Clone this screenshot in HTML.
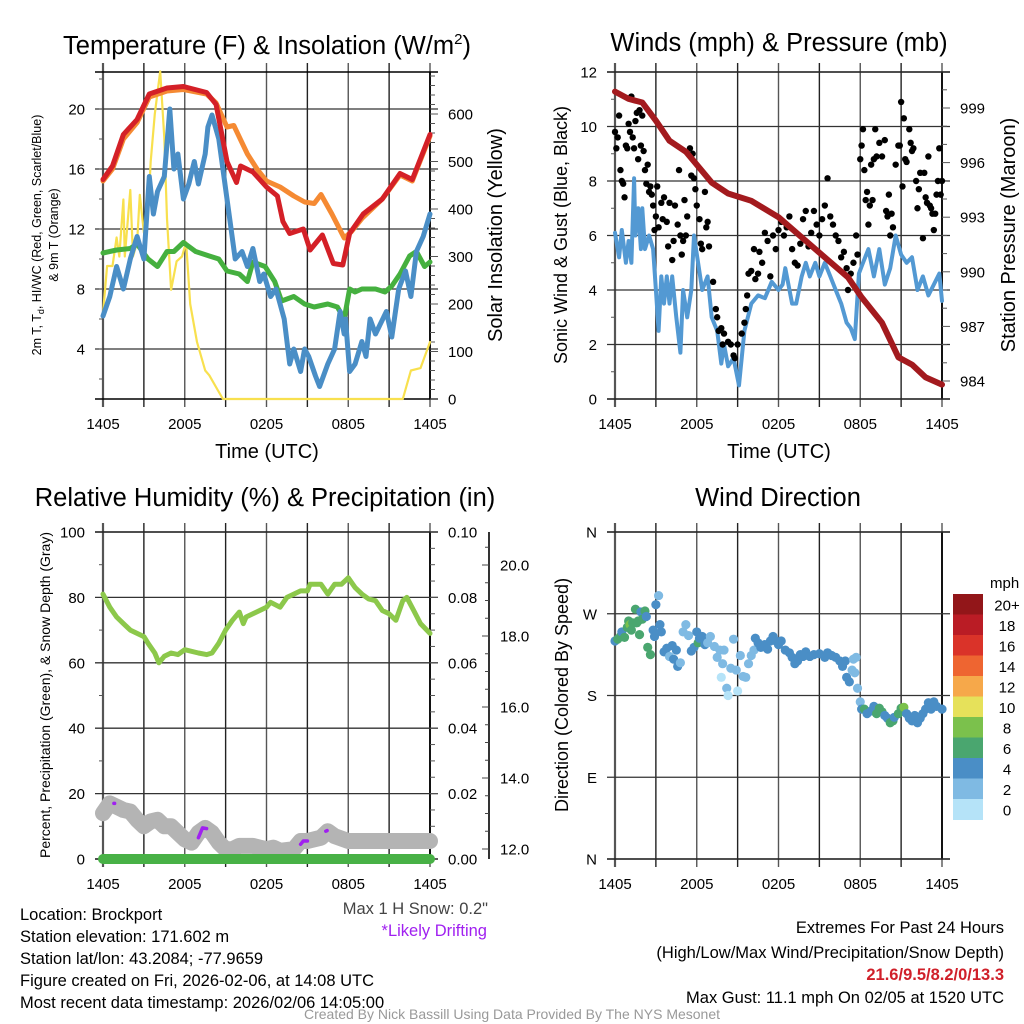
<!DOCTYPE html>
<html><head><meta charset="utf-8"><style>
html,body{margin:0;padding:0;background:#fff;}
svg{display:block;font-family:"Liberation Sans",sans-serif;}
</style></head><body>
<svg id="chart" width="1024" height="1024" viewBox="0 0 1024 1024" xmlns="http://www.w3.org/2000/svg">
<rect width="1024" height="1024" fill="#fff"/>
<g id="p1"></g>
<g id="p2"></g>
<g id="p3"></g>
<g id="p4"></g>
<g font-size="25.5" text-anchor="middle">
<text x="267" y="54">Temperature (F) &amp; Insolation (W/m<tspan dy="-10" font-size="15">2</tspan><tspan dy="10">)</tspan></text>
<text x="779" y="51">Winds (mph) &amp; Pressure (mb)</text>
<text x="265" y="506">Relative Humidity (%) &amp; Precipitation (in)</text>
<text x="778" y="506">Wind Direction</text>
</g>
<g text-anchor="middle">
<text x="267" y="458" font-size="20">Time (UTC)</text>
<text x="779" y="458" font-size="20">Time (UTC)</text>
<text transform="translate(41,235) rotate(-90)" font-size="12.5">2m T, T<tspan dy="3" font-size="9">d</tspan><tspan dy="-3">, HI/WC (Red, Green, Scarlet/Blue)</tspan></text>
<text transform="translate(58,235) rotate(-90)" font-size="12.5">&amp; 9m T (Orange)</text>
<text transform="translate(502,235) rotate(-90)" font-size="20">Solar Insolation (Yellow)</text>
<text transform="translate(567,235) rotate(-90)" font-size="18">Sonic Wind &amp; Gust (Blue, Black)</text>
<text transform="translate(1015,235) rotate(-90)" font-size="20">Station Pressure (Maroon)</text>
<text transform="translate(50,695) rotate(-90)" font-size="14">Percent, Precipitation (Green), &amp; Snow Depth (Gray)</text>
<text transform="translate(568,695) rotate(-90)" font-size="18">Direction (Colored By Speed)</text>
</g>
<g font-size="16.5">
<text x="20" y="920">Location: Brockport</text>
<text x="20" y="942">Station elevation: 171.602 m</text>
<text x="20" y="964">Station lat/lon: 43.2084; -77.9659</text>
<text x="20" y="986">Figure created on Fri, 2026-02-06, at 14:08 UTC</text>
<text x="20" y="1008">Most recent data timestamp: 2026/02/06 14:05:00</text>
<text x="488" y="914" text-anchor="end" fill="#444">Max 1 H Snow: 0.2"</text>
<text x="487" y="936" text-anchor="end" fill="#a020f0">*Likely Drifting</text>
<text x="1004" y="933" text-anchor="end">Extremes For Past 24 Hours</text>
<text x="1004" y="958" text-anchor="end">(High/Low/Max Wind/Precipitation/Snow Depth)</text>
<text x="1004" y="980" text-anchor="end" fill="#d0202a" font-weight="bold">21.6/9.5/8.2/0/13.3</text>
<text x="1004" y="1003" text-anchor="end">Max Gust: 11.1 mph On 02/05 at 1520 UTC</text>
<text x="512" y="1019" text-anchor="middle" font-size="14" fill="#999">Created By Nick Bassill Using Data Provided By The NYS Mesonet</text>
</g>
</svg>
<script>
// ---- Temperature panel data ----
const redT = [0,0.7,1.5,2.5,3.4,4.7,5.9,7.6,8.3,9.1,9.8,10.1,11,12,12.8,13.2,13.7,14.7,15.2,16.1,16.9,17.6,18.1,19.1,20.5,21.8,22.7,24];
const redV = [15.3,16.2,18.3,19.3,21,21.4,21.5,21.1,20.3,16.5,15.1,16.2,15.8,14.8,14.2,12.5,11.7,12,10.6,11.6,9.7,9.6,11.7,13,14,15.7,15.3,18.3];
const orgT = [0,0.7,1.5,2.5,3.4,4.7,5.9,7.6,8.3,9.1,9.6,10.6,11.3,12,13,14,14.8,15.5,16,16.8,17.7,18.2,19,20.5,21.8,22.7,24];
const orgV = [15.2,16,18,19.1,20.8,21.2,21.3,21,20.4,18.8,18.9,17,16,15.2,14.8,14.2,13.8,13.7,14.3,13,11.4,11.8,12.7,14,15.6,15.2,18.2];
const bluT = [0,0.5,1,1.5,2,2.5,3,3.4,3.7,4,4.5,4.9,5.2,5.5,5.9,6.3,6.7,7,7.5,7.7,8,8.5,9.1,9.7,10.2,10.6,11,11.5,11.8,12.3,12.7,13.3,13.7,14,14.5,14.8,15.1,15.6,15.9,16.5,17,17.4,17.7,17.8,18.1,18.5,19,19.3,19.6,20,20.8,21.2,21.7,22.2,22.6,23,23.5,24];
const bluV = [6.2,7.5,9.5,8,10,11.5,10,15.5,13,14.5,15.5,20,16,17,14,15,16.5,15,17,18.8,19.6,18,14,10,10.5,9.5,10.7,8.5,9,7.5,8,6,3,4,2.5,4,3.5,2.2,1.5,3,4,6.5,5,6,2.5,3,4.5,3.5,6,5,6.5,4.8,8,9.2,7.5,10.5,11.5,13];
const grnT = [0,1,2,2.5,3.3,4,4.7,5.2,5.9,6.8,7.8,8.5,9.1,10,10.6,11,11.9,12.6,13.1,14,14.8,15.5,16.5,17.2,17.7,18.1,18.5,19,20,20.7,21.2,21.8,22.5,23,23.6,24];
const grnV = [10.4,10.6,10.7,11,10,9.5,10.5,10.5,11.1,10.5,10.2,10,9.2,9,8.5,9.8,9.5,8.5,7.2,7.5,7,6.8,7,6.8,6,8,7.8,8,8,7.8,8.2,9,10.2,10.5,9.5,9.8];
const solT = [0,0.3,0.7,1,1.2,1.5,1.6,2,2.2,2.5,2.7,3,3.3,3.5,3.8,4.2,4.5,4.7,5,5.4,5.8,6.1,6.4,6.9,7.5,7.8,8.4,8.8,22,22.6,23.3,24];
const solV = [180,280,280,340,300,420,300,440,300,330,430,350,390,500,600,690,550,380,230,290,300,330,200,120,60,50,20,0,0,60,65,120];
const p1LeftTicks = [4,8,12,16,20];
const p1RightTicks = [0,100,200,300,400,500,600];
const timeLabels = ["1405","2005","0205","0805","1405"];
// ---- Wind panel data ----
const windT = [0,0.3,0.5,0.8,1,1.2,1.4,1.5,1.7,1.9,2,2.2,2.5,2.8,3,3.2,3.4,3.6,3.8,4,4.2,4.5,4.8,5,5.3,5.6,5.8,6.1,6.4,6.8,7.1,7.5,7.8,8,8.3,8.7,9.1,9.5,10,10.5,11,11.5,12,12.3,12.5,13,13.3,13.7,14,14.3,14.7,15,15.4,15.8,16.2,16.6,17,17.3,17.6,17.9,18.2,18.6,19,19.4,19.8,20.2,20.6,21,21.4,21.8,22.2,22.6,23,23.4,23.8,24];
const windV = [6.1,5.2,6.2,5,5.8,5,8.1,6,7,5.5,7,5.5,6,5.5,4,2.5,4.5,3.5,4.5,3.5,4.5,3,1.7,4,3,4,6,5,4,4.5,3,2.5,1.3,2,1.2,1.5,0.5,2.5,3.5,3.8,3.7,4.3,4,4.2,4.8,3.5,3.5,4.5,5,4.5,5,4.5,5,4.5,4,3.5,2.8,2.6,2.2,4.6,5,5.5,4.5,5.5,4.2,4.8,6,5.3,5,5.2,4,4.5,3.8,4.2,4.6,3.6];
const gustT = [0,0.1,0.2,0.3,0.4,0.5,0.6,0.7,0.8,0.9,1,1.1,1.2,1.3,1.4,1.5,1.6,1.7,1.8,1.9,2,2.1,2.2,2.3,2.4,2.5,2.6,2.7,2.8,2.9,3,3.1,3.2,3.4,3.5,3.6,3.8,3.9,4,4.2,4.3,4.4,4.6,4.7,4.8,4.9,5,5.1,5.2,5.3,5.5,5.6,5.7,5.8,5.9,6,6.2,6.3,6.4,6.6,6.7,6.8,6.9,7.2,7.4,7.5,7.6,7.8,7.9,8,8.3,8.5,8.7,8.8,9,9.3,9.5,9.6,9.7,9.8,10,10.2,10.3,10.5,10.6,10.8,11,11.2,11.4,11.6,11.8,12,12.2,12.4,12.6,12.8,13,13.2,13.4,13.6,13.8,14,14.2,14.4,14.6,14.8,15,15.2,15.4,15.6,15.8,16,16.2,16.4,16.6,16.8,17,17.1,17.3,17.5,17.7,17.8,18,18.1,18.2,18.3,18.4,18.5,18.6,18.7,18.8,18.9,19,19.1,19.2,19.4,19.6,19.8,19.9,20,20.1,20.2,20.3,20.4,20.6,20.8,20.9,21,21.1,21.2,21.3,21.4,21.6,21.7,21.8,21.9,22.1,22.2,22.3,22.4,22.6,22.7,22.8,22.9,23,23.1,23.2,23.3,23.4,23.5,23.6,23.7,23.8,23.9,24];
const gustV = [9.8,9.2,9.6,10.4,8.4,8,7.9,7.4,9.3,9.2,10.1,9.8,11.1,9.6,9.2,10.2,10.5,8.8,10.6,9.3,10.4,9.1,8.4,7.9,8.6,7.6,7.8,7.5,7.1,6.2,6.7,7.8,6.3,7.2,6.6,7.4,6.5,5.6,7.2,5.1,5.8,7.1,6.4,8.4,6,5.3,5.8,7.3,6,6.7,9.2,8.2,9,8.1,7.7,7.1,6.6,5.7,5.5,7.6,6.3,6.5,5.6,4.3,3.3,3,2.5,2.6,2,2.4,2.1,2,1.6,1.5,2,2.4,2.8,3.3,3.8,4.6,4.7,5.5,4.4,4.6,5.4,5,6.1,5.8,4.5,6,5.5,6.2,6.5,6,6.3,6.7,5.5,5,4.9,5.7,6.6,6.9,5.6,6.1,6.9,6.4,6,6.6,7.1,8.1,6.7,6.4,6,5.8,5.2,5.4,4.8,4,4.6,5,6,5.3,8.8,9.3,9.9,8.4,7.3,7.6,6.4,7.1,8.6,7.3,8.8,9.9,8.9,9.4,8.9,9.5,6.9,6.7,7.5,6,6.8,6.3,8.6,9.3,9.3,10.9,7.8,10.3,8.8,8.7,9.9,9.4,9.1,9.2,8,7,7.7,8.3,5.9,8.3,7.4,7.2,8.9,7.1,7,6.8,6.2,6.8,7.5,8,9.2,7.5,8];
const presT = [0,1,2,3,4,5.2,7.1,8.3,10,12,14,15.7,17.1,18.1,19.6,20.8,21.8,22.8,24];
const presV = [999.9,999.5,999.3,998.3,997.2,996.6,994.9,994.3,993.9,993,991.7,990.6,989.7,988.6,987.2,985.3,984.9,984.2,983.8];
const p2LeftTicks = [0,2,4,6,8,10,12];
const p2RightTicks = [984,987,990,993,996,999];
// ---- Humidity panel data ----
const rhT = [0,0.5,1,1.5,2,2.5,3,3.3,3.8,4.1,4.5,5,5.5,6,7,7.6,8,8.5,9,9.5,10,10.3,10.5,11,11.5,12,12.3,13,13.5,14,14.5,15,15.2,16,16.5,17,17.5,18,18.5,19,19.5,20,20.5,21,21.5,22,22.3,22.8,23.3,24];
const rhV = [81,77,74,72,70,69,68,66,63,60,62,63,62.5,64,63,62.5,63,66,70,73,75.5,72,74,75,76,77,78.5,77,80,81,82,82,84,84,81,84,84,86,83,81,79.5,79,76,75,73,79,80,76,72,69];
const snowT = [0,0.5,1,1.5,2,2.5,3,3.5,4,4.5,5,5.5,6,6.5,7,7.5,8,8.5,9,9.5,10,11,11.5,12,12.5,13,14,14.5,15,16,16.5,17,18,24];
const snowV = [14,17,16,15,14.5,12,10,11.5,12,10,10,8,6,5,8,9.5,8,5,3,3,4,4,3.5,3,3.5,2.5,3,5.5,5.5,6.5,8.5,7,5.5,5.5];
const driftT = [[0.8,0.85],[7.0,7.3,7.6],[14.5,14.7,15.0],[16.35,16.45]];
const driftV = [[17,17],[6.5,9.5,9.3],[4.5,5.5,5.5],[8.5,8.7]];
const p3LeftTicks = [0,20,40,60,80,100];
const p3RightTicks = ["0.00","0.02","0.04","0.06","0.08","0.10"];
const p3SnowTicks = [12,14,16,18,20];
// ---- Wind direction panel data ----
const dirT = [0,0.2,0.4,0.5,0.7,0.9,1,1.1,1.2,1.3,1.5,1.6,1.7,1.8,1.9,2,2.2,2.3,2.4,2.6,2.8,2.9,3,3.2,3.3,3.4,3.6,3.8,4,4.2,4.3,4.5,4.6,4.8,5,5.2,5.4,5.6,5.8,6,6.1,6.2,6.4,6.6,6.8,7,7.3,7.5,7.7,7.8,7.9,8,8.2,8.3,8.5,8.7,8.9,9,9.2,9.4,9.6,9.8,10,10.2,10.3,10.5,10.7,11,11.2,11.4,11.6,11.8,12,12.2,12.5,12.8,13,13.2,13.4,13.6,13.8,14,14.3,14.6,15,15.4,15.6,15.9,16.2,16.5,16.7,16.9,17,17.2,17.4,17.6,17.5,17.7,17.8,18,18.1,18.3,18.5,18.8,19,19.2,19.4,19.6,19.8,20,20.2,20.4,20.5,20.8,21,21.2,21.4,21.6,21.8,22,22.2,22.4,22.6,22.8,23,23.2,23.4,23.6,24];
const dirV = [240,242,245,250,244,255,262,258,252,260,275,260,262,247,272,264,273,267,233,225,252,245,280,290,258,250,228,232,223,235,220,230,212,216,250,258,246,229,233,250,238,243,245,236,238,245,234,222,230,200,215,230,188,180,210,242,208,185,224,201,200,215,224,230,243,238,233,236,231,240,245,240,236,240,230,227,222,215,218,225,223,228,223,225,226,222,227,224,222,218,212,218,200,195,208,205,220,222,188,173,165,165,160,163,168,160,166,162,158,155,150,152,156,160,166,167,160,155,152,158,150,155,160,165,172,165,173,168,165];
const dirS = [5,6,6,4,6,6,6,8,6,6,6,6,6,6,4,6,6,4,6,6,4,4,4,3,4,4,4,4,3,4,4,4,4,3,3,3,3,4,4,4,6,4,4,4,3,3,3,3,2,1,2,2,2,1,3,2,3,1,2,2,3,2,2,3,4,4,4,4,4,4,4,4,4,4,4,4,4,4,4,4,4,4,4,4,4,4,4,4,4,4,4,4,4,4,3,3,3,3,3,3,4,6,4,4,4,6,6,6,4,4,6,6,4,6,6,8,4,4,4,4,4,4,4,4,4,4,4,4,4,4];
const speedBins = ["0","2","4","6","8","10","12","14","16","18","20+"];
const speedColors = ["#b5e3f8","#7fbae3","#4a8ec6","#4aa66f","#7bc14c","#e6e15a","#f6a84a","#ee6531","#da3329","#ba1c25","#921619"];
const dirLabels = ["N","E","S","W","N"];

const NS = "http://www.w3.org/2000/svg";
function mk(parent, tag, attrs){
  const e = document.createElementNS(NS, tag);
  for (const k in attrs) e.setAttribute(k, attrs[k]);
  parent.appendChild(e);
  return e;
}
const PW = 327, PH = 327;
function tx(ox, t){ return ox + t*PW/24; }
function poly(g, xs, ys, color, w, name){
  let d = "";
  for (let i=0;i<xs.length;i++) d += (i?"L":"M") + xs[i].toFixed(1) + "," + ys[i].toFixed(1);
  const p = mk(g, "path", {d:d, fill:"none", stroke:color, "stroke-width":w, "stroke-linejoin":"round", "stroke-linecap":"round"});
  
  
  return p;
}
function frame(g, ox, oy, leftTicks, leftY, leftFmt, name){
  const gl = mk(g, "g", {});
  
  
  for (let i=0;i<=8;i++){
    const x = ox + i*PW/8;
    mk(gl, "line", {x1:x, y1:oy-9, x2:x, y2:oy+PH+8, stroke:(i%2? "#222":"#555"), "stroke-width":(i==0?2.2:1.4)});
  }
  mk(gl, "line", {x1:ox-8, y1:oy, x2:ox+PW+8, y2:oy, stroke:"#000", "stroke-width":1.4});
  mk(gl, "line", {x1:ox-8, y1:oy+PH, x2:ox+PW+8, y2:oy+PH, stroke:"#000", "stroke-width":1.6});
  mk(gl, "line", {x1:ox+PW, y1:oy, x2:ox+PW, y2:oy+PH, stroke:"#000", "stroke-width":1.8});
  leftTicks.forEach(v=>{
    const y = leftY(v);
    mk(gl, "line", {x1:ox-8, y1:y, x2:ox+PW+8, y2:y, stroke:"#333", "stroke-width":1.3});
    const t = mk(gl, "text", {x:ox-18, y:y+5.5, "text-anchor":"end", "font-size":15});
    t.textContent = leftFmt(v);
    
    
  });
  timeLabels.forEach((s,i)=>{
    const t = mk(gl, "text", {x:ox + i*PW/4, y:oy+PH+30, "text-anchor":"middle", "font-size":15});
    t.textContent = s;
    
    
  });
}

// ---- Panel 1 ----
(function(){
  const g = document.getElementById("p1");
  const ox = 103, oy = 72;
  const yL = v => 409 - v*15;
  const yR = v => 399 - v*0.475;
  frame(g, ox, oy, p1LeftTicks, yL, v=>String(v), "p1");
  for (let v=2; v<=22; v+=2) mk(g,"line",{x1:ox-4,y1:yL(v),x2:ox,y2:yL(v),stroke:"#555","stroke-width":1});
  for (let v=0; v<=680; v+=20) mk(g,"line",{x1:ox+PW,y1:yR(v),x2:ox+PW+(v%100?5:8),y2:yR(v),stroke:"#555","stroke-width":1});
  p1RightTicks.forEach(v=>{
    const t = mk(g,"text",{x:448,y:yR(v)+5.5,"font-size":15}); t.textContent=String(v);
    
    
  });
  poly(g, solT.map(t=>tx(ox,t)), solV.map(yR), "#f8e04e", 2.2, "insolation-line");
  poly(g, grnT.map(t=>tx(ox,t)), grnV.map(yL), "#45b03f", 5, "heat-index-line");
  poly(g, bluT.map(t=>tx(ox,t)), bluV.map(yL), "#4a8ec6", 5, "dewpoint-line");
  poly(g, orgT.map(t=>tx(ox,t)), orgV.map(yL), "#f58a33", 5, "temp-9m-line");
  poly(g, redT.map(t=>tx(ox,t)), redV.map(yL), "#d42027", 5, "temp-2m-line");
})();

// ---- Panel 2 ----
(function(){
  const g = document.getElementById("p2");
  const ox = 615, oy = 72;
  const yL = v => 399 - v*27.25;
  const yR = v => 381 - (v-984)*18.2;
  frame(g, ox, oy, p2LeftTicks, yL, v=>String(v), "p2");
  for (let v=1; v<12; v+=2) mk(g,"line",{x1:ox-4,y1:yL(v),x2:ox,y2:yL(v),stroke:"#555","stroke-width":1});
  for (let v=984; v<=1000; v+=1){ const y=yR(v); if(y<oy) continue; mk(g,"line",{x1:ox+PW,y1:y,x2:ox+PW+((v-984)%3?5:8),y2:y,stroke:"#555","stroke-width":1}); }
  p2RightTicks.forEach(v=>{
    const t = mk(g,"text",{x:960,y:yR(v)+5.5,"font-size":15}); t.textContent=String(v);
    
    
  });
  poly(g, windT.map(t=>tx(ox,t)), windV.map(yL), "#5399d3", 4, "sonic-wind-line");
  const gg = mk(g,"g",{});
  
  
  gustT.forEach((t,i)=>{
    const c = mk(gg,"circle",{cx:tx(ox,t),cy:yL(gustV[i]),r:3.2,fill:"#000"});
    
    
  });
  poly(g, presT.map(t=>tx(ox,t)), presV.map(yR), "#a31a1e", 6, "pressure-line");
})();

// ---- Panel 3 ----
(function(){
  const g = document.getElementById("p3");
  const ox = 103, oy = 532;
  const yL = v => 859 - v*3.27;
  const yS = v => 849 - (v-12)*35.5;
  frame(g, ox, oy, p3LeftTicks, yL, v=>String(v), "p3");
  for (let v=10; v<100; v+=20) mk(g,"line",{x1:ox-4,y1:yL(v),x2:ox,y2:yL(v),stroke:"#555","stroke-width":1});
  for (let v=0; v<=100; v+=5) mk(g,"line",{x1:ox+PW,y1:yL(v),x2:ox+PW+(v%20?5:8),y2:yL(v),stroke:"#555","stroke-width":1});
  p3RightTicks.forEach((s,i)=>{
    const t = mk(g,"text",{x:448,y:yL(i*20)+5.5,"font-size":15}); t.textContent=s;
    
    
  });
  const ax = mk(g,"line",{x1:489,y1:oy,x2:489,y2:oy+PH,stroke:"#000","stroke-width":1.6});
  
  
  for (let v=12; v<=21; v+=0.5){ const y=yS(v); if(y<oy) continue; mk(g,"line",{x1:489-(v%2?4:7),y1:y,x2:489,y2:y,stroke:"#444","stroke-width":1}); }
  p3SnowTicks.forEach(v=>{
    const t = mk(g,"text",{x:500,y:yS(v)+5.5,"font-size":15}); t.textContent=v.toFixed(1);
    
    
  });
  poly(g, rhT.map(t=>tx(ox,t)), rhV.map(yL), "#8cc84b", 5, "humidity-line");
  poly(g, snowT.map(t=>tx(ox,t)), snowV.map(yL), "#b4b4b4", 16, "snow-depth-line");
  poly(g, [tx(ox,0),tx(ox,24)], [yL(0),yL(0)], "#48b146", 10, "precipitation-line");
  driftT.forEach((ts,k)=>{
    poly(g, ts.map(t=>tx(ox,t)), driftV[k].map(yL), "#a020f0", 3.5, "drifting-segment");
  });
})();

// ---- Panel 4 ----
(function(){
  const g = document.getElementById("p4");
  const ox = 615, oy = 532;
  const yD = d => 859 - d*PH/360;
  frame(g, ox, oy, [0,90,180,270,360], yD, d=>dirLabels[d/90], "p4");
  const pg = mk(g,"g",{});
  
  
  dirT.forEach((t,i)=>{
    const bin = Math.min(10, Math.floor(dirS[i]/2));
    const c = mk(pg,"circle",{cx:tx(ox,t),cy:yD(dirV[i]),r:4.6,fill:speedColors[bin]});
    
    
  });
  const lg = mk(g,"g",{});
  
  
  const t0 = mk(lg,"text",{x:990,y:588,"font-size":15}); t0.textContent="mph";
  
  
  const top = 594, h = 20.5;
  speedBins.forEach((s,i)=>{
    const k = 10 - i;
    const y = top + i*h;
    const r = mk(lg,"rect",{x:953,y:y,width:30,height:h+0.5,fill:speedColors[k]});
    
    
    const t = mk(lg,"text",{x:1007,y:y+h/2+6,"font-size":15,"text-anchor":"middle"}); t.textContent=speedBins[k];
    
    
  });
})();
</script>
</body></html>
